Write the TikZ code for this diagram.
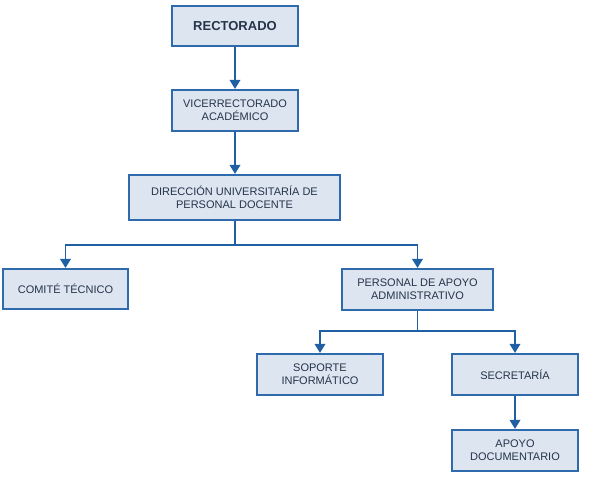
\documentclass[tikz,border=0pt]{standalone}
\usepackage{fontspec}
\setmainfont{Liberation Sans}
\usetikzlibrary{arrows.meta}
\definecolor{boxfill}{HTML}{DCE5F0}
\definecolor{boxline}{HTML}{2E6AAC}
\definecolor{linkcol}{HTML}{1F5FA3}
\definecolor{txtcol}{HTML}{26344A}
\tikzset{
  orgbox/.style={draw=boxline, fill=boxfill, line width=1.6pt, inner sep=0pt,
    align=center, text=txtcol, font=\fontsize{11}{12.7}\selectfont},
  link/.style={draw=linkcol, line width=1.8pt, -{Triangle[width=10.5pt,length=9pt]}},
  bus/.style={draw=linkcol, line width=1.8pt}
}
\begin{document}
\begin{tikzpicture}[x=1pt,y=-1pt]
\useasboundingbox (0,0) rectangle (600,489);
\node[orgbox, minimum width=126.5pt, minimum height=40.5pt, font=\bfseries\fontsize{13}{15}\selectfont] (rect) at (235,26) {RECTORADO};
\node[orgbox, minimum width=126.5pt, minimum height=41.5pt] (vice) at (235,110.5) {VICERRECTORADO\\ACADÉMICO};
\node[orgbox, minimum width=211.5pt, minimum height=45.5pt] (dir) at (234.5,197.5) {DIRECCIÓN UNIVERSITARÍA DE\\PERSONAL DOCENTE};
\node[orgbox, minimum width=125.5pt, minimum height=40.5pt] (comite) at (65.5,289) {COMITÉ TÉCNICO};
\node[orgbox, minimum width=151.5pt, minimum height=41.5pt] (pers) at (417.5,289.5) {PERSONAL DE APOYO\\ADMINISTRATIVO};
\node[orgbox, minimum width=126.5pt, minimum height=41.5pt] (sop) at (320,374.5) {SOPORTE\\INFORMÁTICO};
\node[orgbox, minimum width=126.5pt, minimum height=41.5pt] (sec) at (515,374.5) {SECRETARÍA};
\node[orgbox, minimum width=126.5pt, minimum height=41.5pt] (apoyo) at (515,450.5) {APOYO\\DOCUMENTARIO};
\coordinate (b1) at (235,245);
\coordinate (b2) at (417.5,331);
\draw[link] (rect) -- (vice);
\draw[link] (vice) -- (dir.north -| vice);
\draw[bus] (dir.south -| b1) -- (b1);
\draw[link] (b1) -| (comite.north);
\draw[link] (b1) -| (pers.north);
\draw[bus] (pers.south) -- (b2);
\draw[link] (b2) -| (sop.north);
\draw[link] (b2) -| (sec.north);
\draw[link] (sec) -- (apoyo);
\end{tikzpicture}
\end{document}
